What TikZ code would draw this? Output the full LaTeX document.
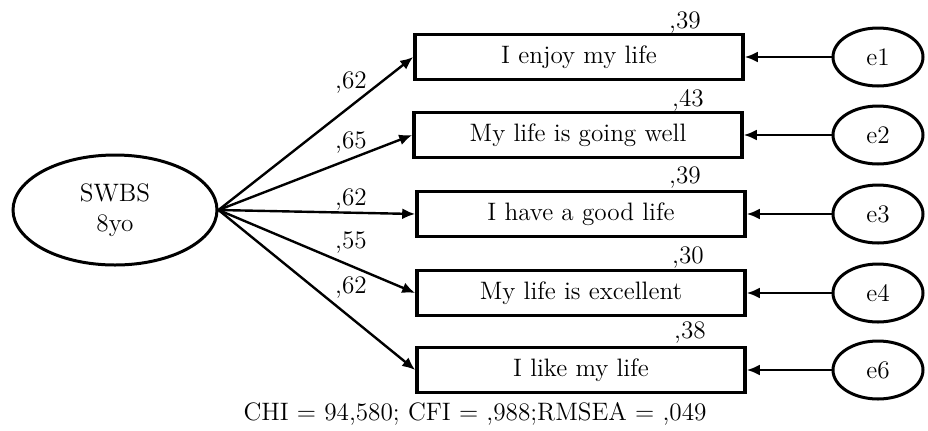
\documentclass[tikz,border=0pt]{standalone}
\usepackage{tikz}
\usetikzlibrary{shapes.geometric,arrows.meta}

\tikzset{
  item/.style={draw, line width=1.8pt, rectangle, minimum width=164pt, minimum height=22.5pt, inner sep=0pt},
  latent/.style={draw, line width=1.5pt, ellipse, minimum width=102pt, minimum height=55pt, align=center, inner sep=0pt},
  err/.style={draw, line width=1.5pt, ellipse, minimum width=45pt, minimum height=29pt, inner sep=0pt},
  path/.style={line width=1.2pt, -{Latex[length=6.5pt,width=5.5pt]}},
}

\begin{document}
\begin{tikzpicture}[x=0.5pt, y=-0.5pt, font=\fontsize{12.6}{15}\selectfont]
    \useasboundingbox (0,0) rectangle (928,430);

    % latent factor
    \node[latent] (swbs) at (115,210) {SWBS\\8yo};

    % observed items
    \node[item] (b1) at (579,57)  {I enjoy my life};
    \node[item] (b2) at (578,135) {My life is going well};
    \node[item] (b3) at (581,214) {I have a good life};
    \node[item] (b4) at (581,293) {My life is excellent};
    \node[item] (b5) at (581,370) {I like my life};

    % error terms
    \node[err] (e1) at (878,57)  {e1};
    \node[err] (e2) at (878,135) {e2};
    \node[err] (e3) at (878,214) {e3};
    \node[err] (e4) at (878,293) {e4};
    \node[err] (e6) at (878,370) {e6};

    % loadings
    \draw[path] (swbs.east) -- (b1.west);
    \draw[path] (swbs.east) -- (b2.west);
    \draw[path] (swbs.east) -- (b3.west);
    \draw[path] (swbs.east) -- (b4.west);
    \draw[path] (swbs.east) -- (b5.west);
    \node (l1) at (351,83)  {,62};
    \node (l2) at (351,143) {,65};
    \node (l3) at (351,200) {,62};
    \node (l4) at (351,243) {,55};
    \node (l5) at (351,288) {,62};

    % residuals
    \draw[path] (e1) -- (b1);
    \draw[path] (e2) -- (b2);
    \draw[path] (e3) -- (b3);
    \draw[path] (e4) -- (b4);
    \draw[path] (e6) -- (b5);

    % squared multiple correlations
    \node (r1) at (685,23)  {,39};
    \node (r2) at (688,100) {,43};
    \node (r3) at (685,178) {,39};
    \node (r4) at (688,258) {,30};
    \node (r5) at (690,333) {,38};

    \node (fit) at (475,414) {CHI = 94,580; CFI = ,988;RMSEA = ,049};
\end{tikzpicture}
\end{document}
